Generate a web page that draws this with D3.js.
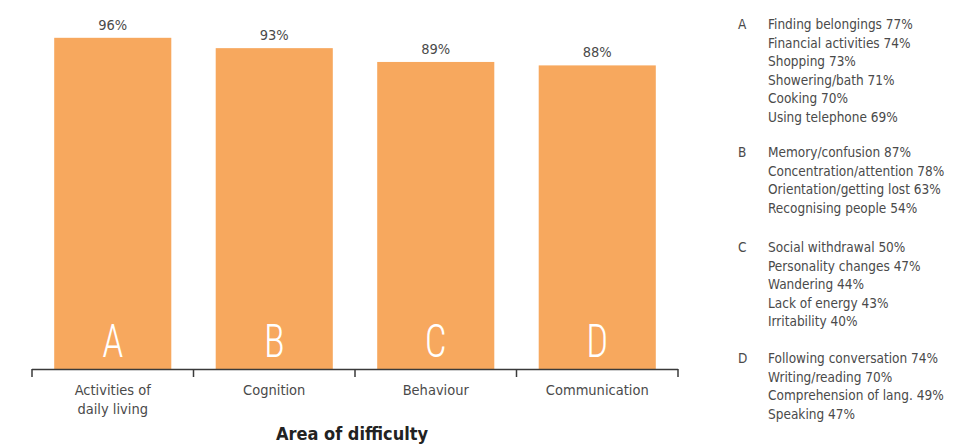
<!DOCTYPE html>
<html>
<head>
<meta charset="utf-8">
<script src="https://cdn.jsdelivr.net/npm/d3@7"></script>
<style>
  html, body { margin: 0; padding: 0; background: #fff; }
  svg { display: block; }
  text { font-family: "DejaVu Sans Condensed", "Liberation Sans Narrow", sans-serif; font-stretch: condensed; }
</style>
</head>
<body>
<svg id="chart" width="964" height="444"></svg>
<script>
const categories = ["Activities of\ndaily living", "Cognition", "Behaviour", "Communication"];
const letters = ["A", "B", "C", "D"];
const values = [96, 93, 89, 88];
const details = [
  ["Finding belongings 77%", "Financial activities 74%", "Shopping 73%", "Showering/bath 71%", "Cooking 70%", "Using telephone 69%"],
  ["Memory/confusion 87%", "Concentration/attention 78%", "Orientation/getting lost 63%", "Recognising people 54%"],
  ["Social withdrawal 50%", "Personality changes 47%", "Wandering 44%", "Lack of energy 43%", "Irritability 40%"],
  ["Following conversation 74%", "Writing/reading 70%", "Comprehension of lang. 49%", "Speaking 47%"]
];
const xTitle = "Area of difficulty";

const svg = d3.select("#chart");
const left = 32, right = 678, base = 369, top100 = 24;
const textCol = "#4a4a4a";
const barCol = "#F7A85E";

const x = d3.scaleBand().domain(categories).range([left, right]).paddingInner(0.275).paddingOuter(0.1375);
const xEdges = d3.scaleBand().domain(categories).range([left, right]).padding(0);
const y = d3.scaleLinear().domain([0, 100]).range([base, top100]);

// bars
svg.selectAll("rect.bar").data(categories).join("rect")
  .attr("class", "bar")
  .attr("x", d => x(d))
  .attr("width", x.bandwidth())
  .attr("y", (d, i) => y(values[i]))
  .attr("height", (d, i) => y(0) - y(values[i]))
  .attr("fill", barCol);

// value labels
svg.selectAll("text.val").data(categories).join("text")
  .attr("class", "val")
  .attr("x", d => x(d) + x.bandwidth() / 2)
  .attr("y", (d, i) => y(values[i]) - 8)
  .attr("text-anchor", "middle")
  .attr("font-size", 14.5)
  .attr("fill", textCol)
  .text((d, i) => values[i] + "%");

// letters in bars
svg.selectAll("text.letter").data(categories).join("text")
  .attr("class", "letter")
  .attr("x", d => x(d) + x.bandwidth() / 2)
  .attr("y", base - 12)
  .attr("text-anchor", "middle")
  .attr("font-size", 47)
  .style("font-family", "Roboto, sans-serif")
  .style("font-weight", 300)
  .attr("fill", "#fff")
  .attr("transform", d => { const cx = x(d) + x.bandwidth() / 2; return `translate(${cx},0) scale(0.82,1) translate(${-cx},0)`; })
  .text((d, i) => letters[i]);

// axis
const axisG = svg.append("g").attr("stroke", "#3a3a3a").attr("stroke-width", 1.5).attr("fill", "none");
axisG.append("line").attr("x1", left).attr("x2", right).attr("y1", base + 0.5).attr("y2", base + 0.5);
const edges = categories.map(c => xEdges(c)).concat([right]);
axisG.selectAll("line.tick").data(edges).join("line")
  .attr("class", "tick")
  .attr("x1", d => d).attr("x2", d => d)
  .attr("y1", base).attr("y2", base + 8);

// category labels
categories.forEach((c, i) => {
  const t = svg.append("text")
    .attr("x", xEdges(c) + xEdges.bandwidth() / 2)
    .attr("y", 395)
    .attr("text-anchor", "middle")
    .attr("font-size", 14.5)
    .attr("fill", textCol);
  c.split("\n").forEach((line, j) => {
    t.append("tspan").attr("x", xEdges(c) + xEdges.bandwidth() / 2).attr("dy", j === 0 ? 0 : 19).text(line);
  });
});

// x title
svg.append("text")
  .attr("x", 352)
  .attr("y", 440)
  .attr("text-anchor", "middle")
  .attr("font-size", 18)
  .attr("font-weight", "bold")
  .attr("fill", "#222")
  .text(xTitle);

// legend details
const groupStarts = [29, 157, 252, 363];
const lh = 18.6;
details.forEach((lines, gi) => {
  svg.append("text")
    .attr("x", 738).attr("y", groupStarts[gi])
    .attr("font-size", 13.5).attr("fill", textCol)
    .text(letters[gi]);
  lines.forEach((ln, li) => {
    svg.append("text")
      .attr("x", 768).attr("y", groupStarts[gi] + li * lh)
      .attr("font-size", 13.5).attr("fill", textCol)
      .text(ln);
  });
});
</script>
</body>
</html>
